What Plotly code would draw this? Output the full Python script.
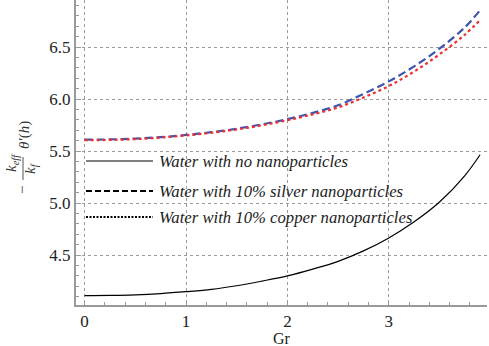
import plotly.graph_objects as go

gr = [0, 0.25, 0.5, 0.75, 1.0, 1.25, 1.5, 1.75, 2.0, 2.25, 2.5, 2.75, 3.0, 3.25, 3.5, 3.75, 3.9]
water = [4.110, 4.112, 4.118, 4.130, 4.148, 4.170, 4.205, 4.250, 4.300, 4.365, 4.440, 4.540,
         4.665, 4.820, 5.010, 5.265, 5.465]
silver = [5.610, 5.612, 5.620, 5.634, 5.655, 5.682, 5.715, 5.757, 5.807, 5.867, 5.940, 6.050,
          6.170, 6.315, 6.485, 6.690, 6.855]
copper = [5.605, 5.607, 5.615, 5.630, 5.650, 5.676, 5.708, 5.748, 5.797, 5.853, 5.920, 6.015,
          6.125, 6.265, 6.430, 6.620, 6.760]
legend_labels = ["Water with no nanoparticles",
                 "Water with 10% silver nanoparticles",
                 "Water with 10% copper nanoparticles"]
x_ticks = [0, 1, 2, 3]
y_ticks = [4.5, 5.0, 5.5, 6.0, 6.5]

W, H = 489, 346
L, R, T, B = 76, 2, 0, 41
pw, ph = W - L - R, H - T - B

def px(xp):
    return (xp - L) / pw

def py(yp):
    return (H - B - yp) / ph

serif = "Liberation Serif"

fig = go.Figure()
fig.add_trace(go.Scatter(x=gr, y=water, mode="lines", line=dict(color="black", width=1.2, shape="spline"),
                         showlegend=False))
fig.add_trace(go.Scatter(x=gr, y=silver, mode="lines",
                         line=dict(color="#3d55b0", width=2.2, dash="8px,4px", shape="spline"),
                         showlegend=False))
fig.add_trace(go.Scatter(x=gr, y=copper, mode="lines",
                         line=dict(color="#ee3030", width=2.2, dash="3px,3px", shape="spline"),
                         showlegend=False))

shapes = []
annotations = []
leg_y = [161, 191, 217]
leg_dash = ["solid", "6px,3px", "2px,1.5px"]
leg_w = [1.2, 2, 2]
for lab, yy, d, w in zip(legend_labels, leg_y, leg_dash, leg_w):
    shapes.append(dict(type="line", xref="paper", yref="paper", x0=px(86), x1=px(153),
                       y0=py(yy), y1=py(yy), line=dict(color="black", width=w, dash=d)))
    annotations.append(dict(xref="paper", yref="paper", x=px(157), y=py(yy), xanchor="left",
                            yanchor="middle", showarrow=False, text="<i>" + lab + "</i>",
                            font=dict(family=serif, size=16.7, color="#222")))

# y-axis label: - (k_eff / k_f) θ'(h), rotated
lab_font = dict(family=serif, size=15, color="#333")
annotations.append(dict(xref="paper", yref="paper", x=px(22), y=py(190), text="−",
                        textangle=-90, showarrow=False, font=lab_font,
                        xanchor="center", yanchor="middle"))
annotations.append(dict(xref="paper", yref="paper", x=px(12), y=py(163), text="<i>k<sub>eff</sub></i>",
                        textangle=-90, showarrow=False, font=lab_font,
                        xanchor="center", yanchor="middle"))
annotations.append(dict(xref="paper", yref="paper", x=px(31), y=py(168), text="<i>k<sub>f</sub></i>",
                        textangle=-90, showarrow=False, font=lab_font,
                        xanchor="center", yanchor="middle"))
annotations.append(dict(xref="paper", yref="paper", x=px(24), y=py(135), text="<i>θ′</i>(<i>h</i>)",
                        textangle=-90, showarrow=False, font=lab_font,
                        xanchor="center", yanchor="middle"))
# x-axis title
annotations.append(dict(xref="paper", yref="paper", x=px(282), y=py(338), text="Gr",
                        showarrow=False, font=dict(family=serif, size=16, color="#222"),
                        xanchor="center", yanchor="middle"))
shapes.append(dict(type="line", xref="paper", yref="paper", x0=px(23), x1=px(23),
                   y0=py(157), y1=py(180), line=dict(color="#555", width=1)))

axis_common = dict(showline=True, linecolor="#9a9a9a", linewidth=2, mirror=False,
                   ticks="inside", ticklen=5, tickcolor="#9a9a9a", tickwidth=1,
                   showgrid=True, gridcolor="#9a9a9a", griddash="dot", gridwidth=1,
                   zeroline=False, automargin=False,
                   tickfont=dict(family=serif, size=17, color="#222"))

fig.update_xaxes(range=[-0.085, -0.085 + pw / 101.4], tickvals=x_ticks,
                 ticktext=[str(v) for v in x_ticks],
                 minor=dict(dtick=0.2, tick0=0, ticks="inside", ticklen=3, tickcolor="#9a9a9a", showgrid=False),
                 **axis_common)
fig.update_yaxes(range=[4.02, 4.02 + ph / 104.0], tickvals=y_ticks,
                 ticktext=[f"{v:.1f}" for v in y_ticks],
                 minor=dict(dtick=0.1, tick0=0, ticks="inside", ticklen=3, tickcolor="#9a9a9a", showgrid=False),
                 **axis_common)

fig.update_layout(width=W, height=H, margin=dict(l=L, r=R, t=T, b=B, autoexpand=False),
                  font=dict(family=serif, color="#222"),
                  paper_bgcolor="white", plot_bgcolor="white",
                  shapes=shapes, annotations=annotations, showlegend=False)

fig.write_html("out.html", config={"displayModeBar": False},
               post_script="document.body.style.margin='0px';")
